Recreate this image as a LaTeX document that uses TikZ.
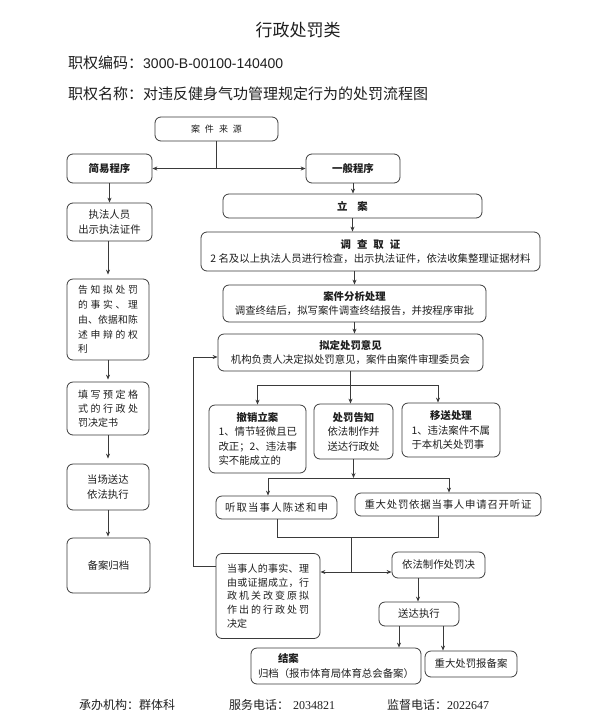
\documentclass[tikz,border=0pt]{standalone}
\usepackage{fontspec}
\setmainfont{Noto Sans CJK SC}
\newfontfamily\serifnum{Liberation Serif}
\newfontfamily\sansnum{Liberation Sans}
\usetikzlibrary{arrows.meta}
\definecolor{linec}{HTML}{3A3A3A}
\definecolor{txtc}{HTML}{1E1E1E}
% spread the characters of a line over a fixed width
\newcommand\spr[2]{\makebox[#1][s]{\sprloop#2\sprend}}
\def\sprloop#1#2\sprend{#1\ifx\relax#2\relax\else\hfill\sprloop#2\sprend\fi}
\begin{document}
\begin{tikzpicture}[x=1pt,y=-1pt,
  box/.style={draw=linec, line width=0.8pt, rounded corners=6pt, inner sep=1pt,
    align=center, text=txtc, font=\fontsize{10.4}{14.5}\selectfont},
  arr/.style={draw=linec, line width=0.8pt, -{Stealth[length=5pt,width=4pt]}},
  ln/.style={draw=linec, line width=0.8pt},
  txt/.style={anchor=west, inner sep=0pt, text=txtc}]
\useasboundingbox (0,0) rectangle (590,716);

% heading
\node[text=txtc, inner sep=0pt, font=\fontsize{17}{20}\selectfont] (title) at (298,30) {行政处罚类};
\node[txt, font=\fontsize{15}{18}\selectfont] (code) at (68,63) {职权编码：{\sansnum\fontsize{14}{17}\selectfont 3000-B-00100-140400}};
\node[txt, font=\fontsize{15}{18}\selectfont] (name) at (68,94) {职权名称：对违反健身气功管理规定行为的处罚流程图};

% top
\node[box, minimum width=123pt, minimum height=24pt, font=\fontsize{9}{11}\selectfont] (src) at (216.5,129) {案\hspace{5pt}件\hspace{5pt}来\hspace{5pt}源};
\node[box, minimum width=85pt, minimum height=29pt] (easy) at (109.5,168.5) {\textbf{简易程序}};
\node[box, minimum width=94pt, minimum height=29pt] (norm) at (353,168.5) {\textbf{一般程序}};

% general procedure
\node[box, minimum width=259pt, minimum height=24pt] (lian) at (352.5,206) {\textbf{立\hspace{10pt}案}};
\node[box, minimum width=339pt, minimum height=39pt] (dczj) at (370.5,251.5) {\textbf{调\hspace{6pt}查\hspace{6pt}取\hspace{6pt}证}\\2 名及以上执法人员进行检查，出示执法证件，依法收集整理证据材料};
\node[box, minimum width=263pt, minimum height=37pt] (fx) at (354.5,303.5) {\textbf{案件分析处理}\\调查终结后，拟写案件调查终结报告，并按程序审批};
\node[box, minimum width=265pt, minimum height=37pt] (nd) at (350.5,352.5) {\textbf{拟定处罚意见}\\机构负责人决定拟处罚意见，案件由案件审理委员会};
\node[box, minimum width=97pt, minimum height=68pt] (cx) at (257.5,439) {\textbf{撤销立案}\\\makebox[78pt][l]{1、情节轻微且已}\\\makebox[78pt][l]{改正；2、违法事}\\\makebox[78pt][l]{实不能成立的}};
\node[box, minimum width=79pt, minimum height=55pt] (gzh) at (353.5,431.5) {\textbf{处罚告知}\\依法制作并\\送达行政处};
\node[box, minimum width=98pt, minimum height=54pt] (ys) at (451,430) {\textbf{移送处理}\\\makebox[79pt][l]{1、违法案件不属}\\\makebox[79pt][l]{于本机关处罚事}};
\node[box, minimum width=121pt, minimum height=23pt] (tq) at (276.5,507.5) {\spr{103pt}{听取当事人陈述和申}};
\node[box, minimum width=186pt, minimum height=23pt] (zd) at (448,504.5) {\spr{167pt}{重大处罚依据当事人申请召开听证}};
\node[box, minimum width=93pt, minimum height=26pt] (yf) at (438.5,565) {依法制作处罚决};
\node[box, minimum width=104pt, minimum height=85pt, font=\fontsize{10}{13.8}\selectfont] (dsr) at (268,596) {\spr{82pt}{当事人的事实、理}\\\spr{82pt}{由或证据成立，行}\\\spr{82pt}{政机关改变原拟}\\\spr{82pt}{作出的行政处罚}\\\makebox[82pt][l]{决定}};
\node[box, minimum width=80pt, minimum height=24pt] (sd) at (419,614) {送达执行};
\node[box, align=left, minimum width=170pt, minimum height=36pt] (ja) at (336,666) {\hspace*{20pt}\textbf{结案}\\归档（报市体育局体育总会备案）};
\node[box, minimum width=92pt, minimum height=26pt] (bb) at (471,664) {重大处罚报备案};

% simple procedure
\node[box, minimum width=85pt, minimum height=38pt] (zfry) at (109.5,222) {执法人员\\出示执法证件};
\node[box, minimum width=82pt, minimum height=81pt, font=\fontsize{9.8}{14.8}\selectfont] (gzn) at (108,319.5) {\spr{60pt}{告知拟处罚}\\\spr{60pt}{的事实、理}\\\spr{60pt}{由、依据和陈}\\\spr{60pt}{述申辩的权}\\\makebox[60pt][l]{利}};
\node[box, minimum width=82pt, minimum height=53pt, font=\fontsize{10}{14}\selectfont] (txyd) at (108,408.5) {\spr{60pt}{填写预定格}\\\spr{60pt}{式的行政处}\\\makebox[60pt][l]{罚决定书}};
\node[box, minimum width=82pt, minimum height=46pt] (dcsd) at (108,487) {当场送达\\依法执行};
\node[box, minimum width=83pt, minimum height=55pt] (bagd) at (108.5,565.5) {备案归档};

% footer
\node[txt, font=\fontsize{12}{14}\selectfont] (org) at (79,705) {承办机构：群体科};
\node[txt, font=\fontsize{12}{14}\selectfont] (tel1) at (229,705) {服务电话：\hspace{4pt}{\serifnum 2034821}};
\node[txt, font=\fontsize{12}{14}\selectfont] (tel2) at (387,705) {监督电话：{\serifnum 2022647}};

% connectors
\draw[ln] (src.south) -- (src.south |- easy.east) coordinate (fork);
\draw[arr] (fork) -- (easy.east);
\draw[arr] (fork) -- (norm.west);
\draw[arr] (norm.south) -- (norm.south |- lian.north);
\draw[arr] (lian.south) -- (lian.south |- dczj.north);
\draw[arr] (dczj.south -| fx.north) -- (fx.north);
\draw[arr] (fx.south) -- (fx.south |- nd.north);

\coordinate (br) at (350.5,385);
\coordinate (ysin) at (438,385);
\draw[ln] (nd.south -| br) -- (br);
\draw[ln] (br -| cx.north) -- (ysin);
\draw[arr] (br -| cx.north) -- (cx.north);
\draw[arr] (br) -- (br |- gzh.north);
\draw[arr] (ysin) -- (ysin |- ys.north);

\coordinate (hm) at (353.5,478);
\coordinate (hl) at (268,478);
\coordinate (hr) at (449,478);
\draw[arr] (gzh.south) -- (hm);
\draw[ln] (hl) -- (hr);
\draw[arr] (hl) -- (hl |- tq.north);
\draw[arr] (hr) -- (hr |- zd.north);

\coordinate (ml) at (277,537);
\coordinate (mr) at (438,537);
\coordinate (mm) at (351,537);
\coordinate (mj) at (351,572);
\draw[ln] (tq.south -| ml) -- (ml) -- (mr) -- (zd.south -| mr);
\draw[ln] (mm) -- (mj);
\draw[arr] (mj) -- (mj -| dsr.east);
\draw[arr] (mj) -- (mj -| yf.west);

\coordinate (lp) at (193,566);
\coordinate (lq) at (193,357);
\draw[arr] (dsr.west |- lp) -- (lp) -- (lq) -- (lq -| nd.west);

\coordinate (sx) at (418,0);
\coordinate (s1) at (399,0);
\coordinate (s2) at (443,0);
\draw[arr] (yf.south -| sx) -- (sx |- sd.north);
\draw[arr] (sd.south -| s1) -- (s1 |- ja.north);
\draw[arr] (sd.south -| s2) -- (s2 |- bb.north);

\draw[arr] (easy.south) -- (easy.south |- zfry.north);
\draw[arr, shorten >=4pt] (zfry.south -| gzn.north) -- (gzn.north);
\draw[arr, shorten >=2pt] (gzn.south) -- (txyd.north);
\draw[arr, shorten >=5pt] (txyd.south) -- (dcsd.north);
\draw[arr, shorten >=1pt] (dcsd.south) -- (dcsd.south |- bagd.north);
\end{tikzpicture}
\end{document}
